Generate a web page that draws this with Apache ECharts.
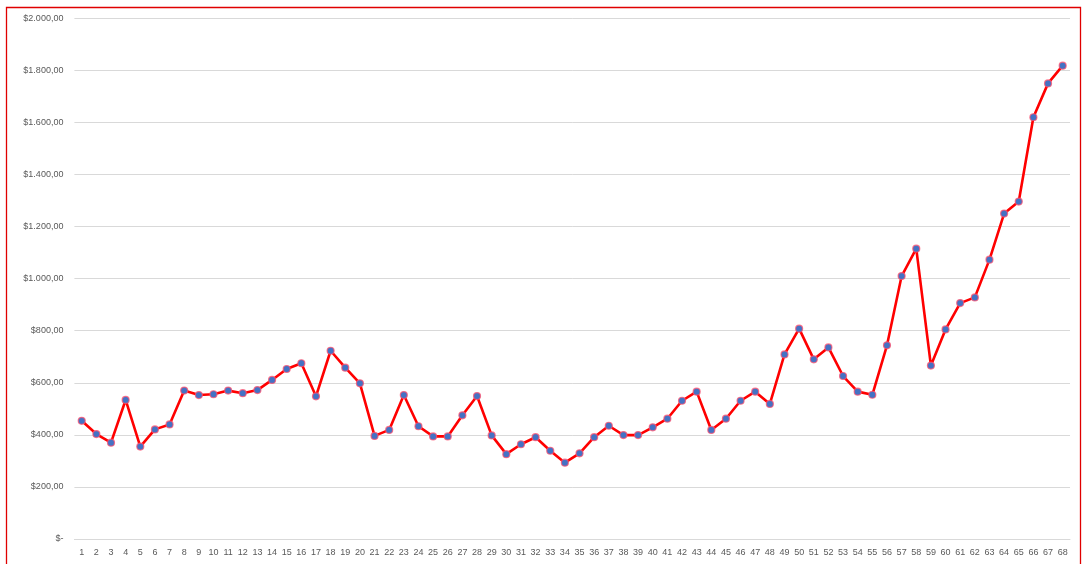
<!DOCTYPE html>
<html>
<head>
<meta charset="utf-8">
<script src="https://cdn.jsdelivr.net/npm/echarts@6/dist/echarts.min.js"></script>
<style>
html,body{margin:0;padding:0;background:#fff;}
#chart{width:1089px;height:564px;}
</style>
</head>
<body>
<div id="chart"></div>
<script>
const categories = Array.from({length: 68}, (_, i) => String(i + 1));
const values = [
  454, 403, 370, 534, 355, 421, 440, 570, 553, 556,
  570, 560, 572, 611, 653, 675, 548, 723, 658, 598,
  396, 419, 553, 433, 394, 394, 475, 549, 398, 326,
  364, 391, 339, 293, 329, 391, 435, 399, 399, 429,
  462, 531, 566, 419, 462, 531, 566, 519, 709, 808,
  690, 736, 626, 566, 554, 744, 1010, 1115, 666, 805,
  906, 928, 1073, 1250, 1296, 1620, 1750, 1818
];
const yMin = 0, yMax = 2000, yStep = 200;

function fmt(v) {
  if (v === 0) return '$-';
  const s = Math.round(v).toString().replace(/\B(?=(\d{3})+(?!\d))/g, '.');
  return '$' + s + ',00';
}

const chart = echarts.init(document.getElementById('chart'), null, {renderer: 'canvas'});
chart.setOption({
  animation: false,
  backgroundColor: '#fff',
  grid: {left: 74.4, right: 19, top: 18.3, bottom: 25, containLabel: false},
  xAxis: {
    type: 'category',
    data: categories,
    boundaryGap: true,
    axisLine: {show: true, lineStyle: {color: '#d9d9d9', width: 1}},
    axisTick: {show: false},
    axisLabel: {interval: 0, color: '#595959', fontSize: 9, fontFamily: 'Liberation Sans', margin: 9}
  },
  yAxis: {
    type: 'value',
    min: yMin, max: yMax, interval: yStep,
    axisLine: {show: false},
    axisTick: {show: false},
    splitLine: {lineStyle: {color: '#d9d9d9', width: 1}},
    axisLabel: {color: '#595959', fontSize: 9, fontFamily: 'Liberation Sans', margin: 11, formatter: fmt}
  },
  series: [{
    type: 'line',
    data: values,
    symbol: 'circle',
    symbolSize: 7,
    lineStyle: {color: '#ff0000', width: 2.6},
    itemStyle: {color: '#4472c4', borderColor: 'rgba(255,80,110,0.75)', borderWidth: 1.2},
    z: 3
  }],
  graphic: [{
    type: 'rect',
    shape: {x: 6.5, y: 7.5, width: 1074, height: 600},
    style: {fill: 'none', stroke: '#e00000', lineWidth: 1.3},
    silent: true, z: 100
  }]
});
</script>
</body>
</html>
